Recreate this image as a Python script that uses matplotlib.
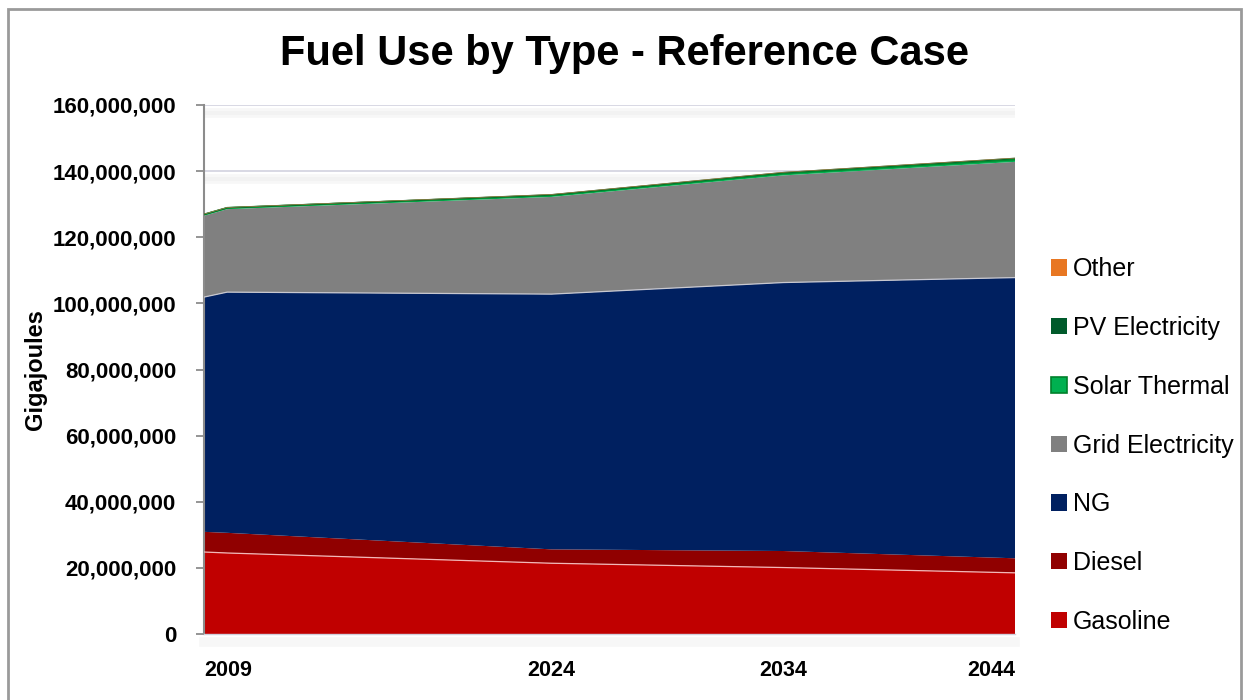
import matplotlib
matplotlib.use("Agg")
import matplotlib.pyplot as plt
from matplotlib.patches import Patch, Rectangle
import matplotlib.patheffects as pe
from matplotlib.ticker import FuncFormatter

plt.rcParams['font.family'] = ['Liberation Sans', 'DejaVu Sans']

years = [2009, 2010, 2024, 2034, 2044]
gasoline = [24.8e6, 24.5e6, 21.4e6, 20.1e6, 18.5e6]
diesel = [6.1e6, 6.1e6, 4.2e6, 5.0e6, 4.4e6]
ng = [71.0e6, 72.8e6, 77.2e6, 81.2e6, 84.9e6]
grid_elec = [24.6e6, 25.1e6, 29.4e6, 32.4e6, 35.0e6]
solar_thermal = [0.4e6, 0.4e6, 0.5e6, 0.6e6, 0.7e6]
pv_elec = [0.05e6, 0.06e6, 0.2e6, 0.3e6, 0.4e6]
other = [0.05e6, 0.05e6, 0.05e6, 0.05e6, 0.05e6]

series_names = ["Gasoline", "Diesel", "NG", "Grid Electricity",
                "Solar Thermal", "PV Electricity", "Other"]
series_vals = [gasoline, diesel, ng, grid_elec, solar_thermal, pv_elec, other]
colors = ["#C00000", "#900000", "#002060", "#808080", "#00B050", "#005A2B", "#E87722"]
edges = ["#F2B8B8", "#900000", "#C8C8D0", "#909090", "#008A2E", "#005A2B", "#D09050"]
edge_lw = [0.9, 0.0, 0.9, 0.0, 1.3, 0.8, 0.4]

xticks = [2009, 2024, 2034, 2044]
yticks = [0, 20e6, 40e6, 60e6, 80e6, 100e6, 120e6, 140e6, 160e6]

fig = plt.figure(figsize=(12.43, 7.0), dpi=100)
fig.patches.append(Rectangle((8/1243, -0.01), (1241-8)/1243, 1 - 9/700 + 0.01,
                             transform=fig.transFigure, fill=False,
                             edgecolor="#9A9A9A", linewidth=2.0, zorder=0))

ax = fig.add_axes([204/1243, 1 - 634/700, (1015-204)/1243, (634-105)/700])

# gridlines with soft shadow
for yv in yticks[1:]:
    ax.axhline(yv, color="#D8D8E4", linewidth=1.4, zorder=0.5,
               path_effects=[pe.SimpleLineShadow(offset=(0, -6), shadow_color="#000000",
                                                 alpha=0.03, linewidth=7),
                             pe.SimpleLineShadow(offset=(0, -6), shadow_color="#000000",
                                                 alpha=0.02, linewidth=3),
                             pe.Normal()])

ax.stackplot(years, *series_vals, colors=colors, zorder=2, linewidth=0)
# layer edges
cum = [0.0] * len(years)
for vals, ec, lw in zip(series_vals, edges, edge_lw):
    cum = [c + v for c, v in zip(cum, vals)]
    if lw > 0:
        ax.plot(years, cum, color=ec, linewidth=lw, zorder=3)

ax.set_xlim(2009, 2044)
ax.set_ylim(0, 160e6)
ax.set_yticks(yticks)
ax.yaxis.set_major_formatter(FuncFormatter(lambda v, p: f"{int(v):,}"))
ax.set_xticks(xticks)
ax.set_xticklabels([str(y) for y in xticks])
for lab, ha in zip(ax.get_xticklabels(), ["left", "center", "center", "right"]):
    lab.set_ha(ha)

ax.tick_params(axis='y', length=6, width=1.3, color="#8C8C8C", pad=14,
               labelsize=16)
ax.tick_params(axis='x', length=0, pad=19, labelsize=15.5)
for lab in ax.get_xticklabels() + ax.get_yticklabels():
    lab.set_fontweight('bold')

for s in ["top", "right"]:
    ax.spines[s].set_visible(False)
ax.spines["left"].set_color("#8C8C8C")
ax.spines["left"].set_linewidth(1.5)
ax.spines["bottom"].set_color("#D0D0DC")
ax.spines["bottom"].set_linewidth(1.0)
ax.spines["bottom"].set_path_effects([pe.SimpleLineShadow(offset=(0, -6), shadow_color="#000000",
                                                          alpha=0.03, linewidth=7), pe.Normal()])

fig.text(35/1243, 1 - 370/700, "Gigajoules", rotation=90, fontsize=17,
         fontweight='bold', ha='center', va='center')

fig.text(625/1243, 1 - 54/700, "Fuel Use by Type - Reference Case",
         fontsize=30, fontweight='bold', ha='center', va='center')

# legend
handles = []
for name, c in zip(series_names, colors):
    if name == "Solar Thermal":
        handles.append(Patch(facecolor=c, edgecolor="#00802B", linewidth=1.2, label=name))
    else:
        handles.append(Patch(facecolor=c, edgecolor='none', label=name))
handles = handles[::-1]
leg = fig.legend(handles=handles, loc='center left',
                 bbox_to_anchor=(1051/1243, 1 - 445.5/700),
                 frameon=False, fontsize=18, handlelength=0.62, handleheight=0.62,
                 handletextpad=0.25, labelspacing=1.39, borderpad=0, borderaxespad=0)

fig.savefig("out.png", dpi=100)
